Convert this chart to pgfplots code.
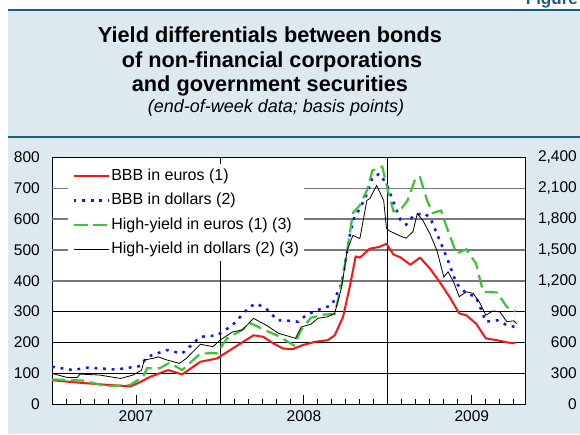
\documentclass[border=0pt]{standalone}
\usepackage{pgfplots}
\pgfplotsset{compat=1.18}
\usepackage{fontspec}
\setmainfont{Liberation Sans}
\definecolor{bgblue}{RGB}{221,233,240}
\definecolor{rulecol}{RGB}{29,93,127}
\definecolor{hyeur}{RGB}{60,195,60}
\definecolor{bbbusd}{RGB}{20,20,245}
\definecolor{bbbeur}{RGB}{250,20,20}
\definecolor{gridgray}{RGB}{120,120,120}
\begin{document}
\begin{tikzpicture}[x=1pt,y=1pt]
\clip (0,0) rectangle (580,434);
\fill[white] (0,0) rectangle (580,434);
\fill[bgblue] (8,0) rectangle (580,424);
\node[anchor=base east, text=rulecol, font=\bfseries\fontsize{17}{20}\selectfont, inner sep=0pt] at (578,429) {Figure};
\draw[rulecol, line width=2.5pt] (8,424) -- (580,424);
\draw[rulecol, line width=2pt] (8,297) -- (580,297);
\node[anchor=base, font=\bfseries\fontsize{21.7}{25}\selectfont, inner sep=0pt] at (270,391) {Yield differentials between bonds};
\node[anchor=base, font=\bfseries\fontsize{21.7}{25}\selectfont, inner sep=0pt] at (272,366) {of non-financial corporations};
\node[anchor=base, font=\bfseries\fontsize{21.7}{25}\selectfont, inner sep=0pt] at (270,342) {and government securities};
\node[anchor=base, font=\itshape\fontsize{18}{21}\selectfont, inner sep=0pt] at (276,321) {(end-of-week data; basis points)};

\begin{axis}[
  at={(52pt,30pt)}, anchor=south west,
  width=473pt, height=246.5pt, scale only axis,
  xmin=0, xmax=33.8, ymin=0, ymax=800,
  axis background/.style={fill=white},
  axis line style={black, line width=0.9pt},
  xtick={6,18,30}, xticklabels={2007,2008,2009},
  minor xtick={1,2,3,4,5,7,8,9,10,11,12,13,14,15,16,17,19,20,21,22,23,24,25,26,27,28,29,31,32,33},
  xtick pos=bottom, tick align=inside,
  major tick length=9pt, minor tick length=5pt,
  x tick style={black, line width=0.8pt},
  ytick={0,100,...,800}, ytick pos=left,
  y tick style={draw=none},
  tick label style={font=\fontsize{15.5}{18}\selectfont},
  yticklabel style={anchor=east, inner sep=0pt, xshift=-12pt},
  xticklabel style={yshift=-3pt},
  /pgf/number format/assume math mode=true,
  legend cell align=left,
  legend image code/.code={\draw[#1] (0pt,0pt) -- (35pt,0pt);},
  legend style={at={(0.034,0.9736)}, anchor=north west, draw=none, fill=white,
    font=\fontsize{16}{19}\selectfont, inner xsep=4pt, inner ysep=3pt,
    row sep=6.4pt, column sep=0pt,
    nodes={inner sep=1.5pt, text height=11.5pt, text depth=3.5pt}},
]
\foreach \v in {100,200,300} {\edef\tmp{\noexpand\draw[black, line width=0.8pt] (axis cs:0,\v) -- (axis cs:33.8,\v);}\tmp}
\foreach \v in {400,500,600,700} {\edef\tmp{\noexpand\draw[gridgray, line width=1.5pt] (axis cs:0,\v) -- (axis cs:33.8,\v);}\tmp}
\draw[black, line width=0.8pt] (axis cs:12,0) -- (axis cs:12,800);
\draw[black, line width=0.8pt] (axis cs:24,0) -- (axis cs:24,800);

\addplot[bbbeur, line width=2pt, line join=round] coordinates {
(0,77) (2.0,69) (3.4,64) (5.6,57) (6.3,71) (7.0,88) (8.3,110) (9.3,96) (10.6,137)
(11.8,148) (12.9,180) (14.4,223) (15.1,218) (15.8,197) (16.5,180) (17.2,178) (17.9,191)
(18.8,202) (19.7,207) (20.2,223) (20.8,283) (21.3,385) (21.7,479) (22.0,475) (22.7,504)
(23.4,510) (23.9,520) (24.4,485) (24.9,476) (25.6,452) (26.3,475) (27.0,440) (27.7,396)
(28.4,348) (29.1,294) (29.6,288) (30.3,261) (31.0,213) (31.8,207) (32.5,200) (33.1,197)};
\addlegendentry{BBB in euros (1)}
\addplot[bbbusd, line width=2.5pt, dash pattern=on 2.8pt off 5.8pt] coordinates {
(0,121) (1.5,110) (2.5,118) (4.6,112) (6.3,123) (6.8,153) (8.2,175) (9.3,164) (10.6,218)
(11.8,223) (12.9,256) (14.1,315) (14.6,326) (15.3,310) (16.1,272) (17.0,270) (17.6,267)
(18.2,290) (19.0,305) (20.0,321) (20.7,391) (21.1,499) (21.3,553) (21.6,607) (22.0,634)
(22.5,682) (22.9,736) (23.4,747) (23.9,715) (24.4,655) (24.9,598) (25.3,582) (25.8,610)
(26.5,620) (27.0,607) (27.5,553) (28.2,477) (28.9,391) (29.6,359) (30.3,348) (31.0,267)
(31.8,272) (32.5,256) (33.1,250)};
\addlegendentry{BBB in dollars (2)}
\addlegendimage{hyeur, line width=2.2pt, dash pattern=on 14pt off 5pt}
\addlegendentry{High-yield in euros (1) (3)}
\addlegendimage{black, line width=0.8pt}
\addlegendentry{High-yield in dollars (2) (3)}
\end{axis}

\begin{axis}[
  at={(52pt,30pt)}, anchor=south west,
  width=473pt, height=246.5pt, scale only axis,
  xmin=0, xmax=33.8, ymin=0, ymax=2400,
  axis x line=none, axis y line*=right,
  axis line style={black, line width=0.9pt},
  ytick={0,300,...,2400},
  y tick style={draw=none},
  tick label style={font=\fontsize{15.5}{18}\selectfont},
  yticklabel style={anchor=east, inner sep=0pt, xshift=52pt},
  /pgf/number format/.cd, 1000 sep={,}, assume math mode=true, /pgfplots/.cd,
]
\addplot[hyeur, line width=2.2pt, dash pattern=on 13pt off 6pt] coordinates {
(0,240) (2.2,228) (3.9,174) (5.6,186) (6.5,264) (6.8,348) (7.7,348) (8.4,402) (9.3,330)
(10.6,492) (11.8,495) (12.5,639) (13.5,714) (14.2,786) (15.2,720) (16.2,660) (17.3,570)
(17.8,720) (18.5,840) (19.4,870) (20.2,876) (20.7,1173) (21.1,1500) (21.5,1860) (22.0,1935)
(22.5,2079) (22.9,2274) (23.6,2310) (24.0,2079) (24.4,1875) (24.9,1890) (25.4,1980)
(26.0,2208) (26.3,2208) (26.8,1983) (27.2,1860) (27.8,1884) (28.2,1722) (28.9,1464)
(29.6,1506) (30.3,1368) (30.8,1092) (31.8,1086) (32.5,945) (33.1,900)};
\addplot[black, line width=0.8pt] coordinates {
(0,297) (1.1,258) (1.8,258) (2.0,291) (3.4,282) (4.9,249) (5.8,282) (6.4,330) (6.6,429)
(7.2,444) (7.6,459) (8.2,429) (9.1,396) (9.6,444) (10.6,582) (11.5,558) (12.0,621)
(12.9,702) (13.6,720) (14.4,834) (15.3,768) (16.2,687) (16.9,660) (17.4,639) (17.8,750)
(18.5,777) (19.0,834) (19.7,849) (20.2,882) (20.7,1140) (21.1,1500) (21.5,1641) (22.0,1611)
(22.5,1983) (22.7,1998) (23.2,2127) (23.7,1983) (23.9,1710) (24.1,1686) (24.9,1635)
(25.3,1614) (25.8,1680) (26.1,1854) (26.5,1788) (27.0,1659) (27.5,1497) (28.0,1236)
(28.3,1287) (28.7,1188) (29.1,1044) (29.6,1092) (30.1,1077) (30.6,978) (31.0,864)
(31.5,906) (32.0,897) (32.5,801) (33.0,810) (33.2,783)};
\end{axis}
\end{tikzpicture}
\end{document}
